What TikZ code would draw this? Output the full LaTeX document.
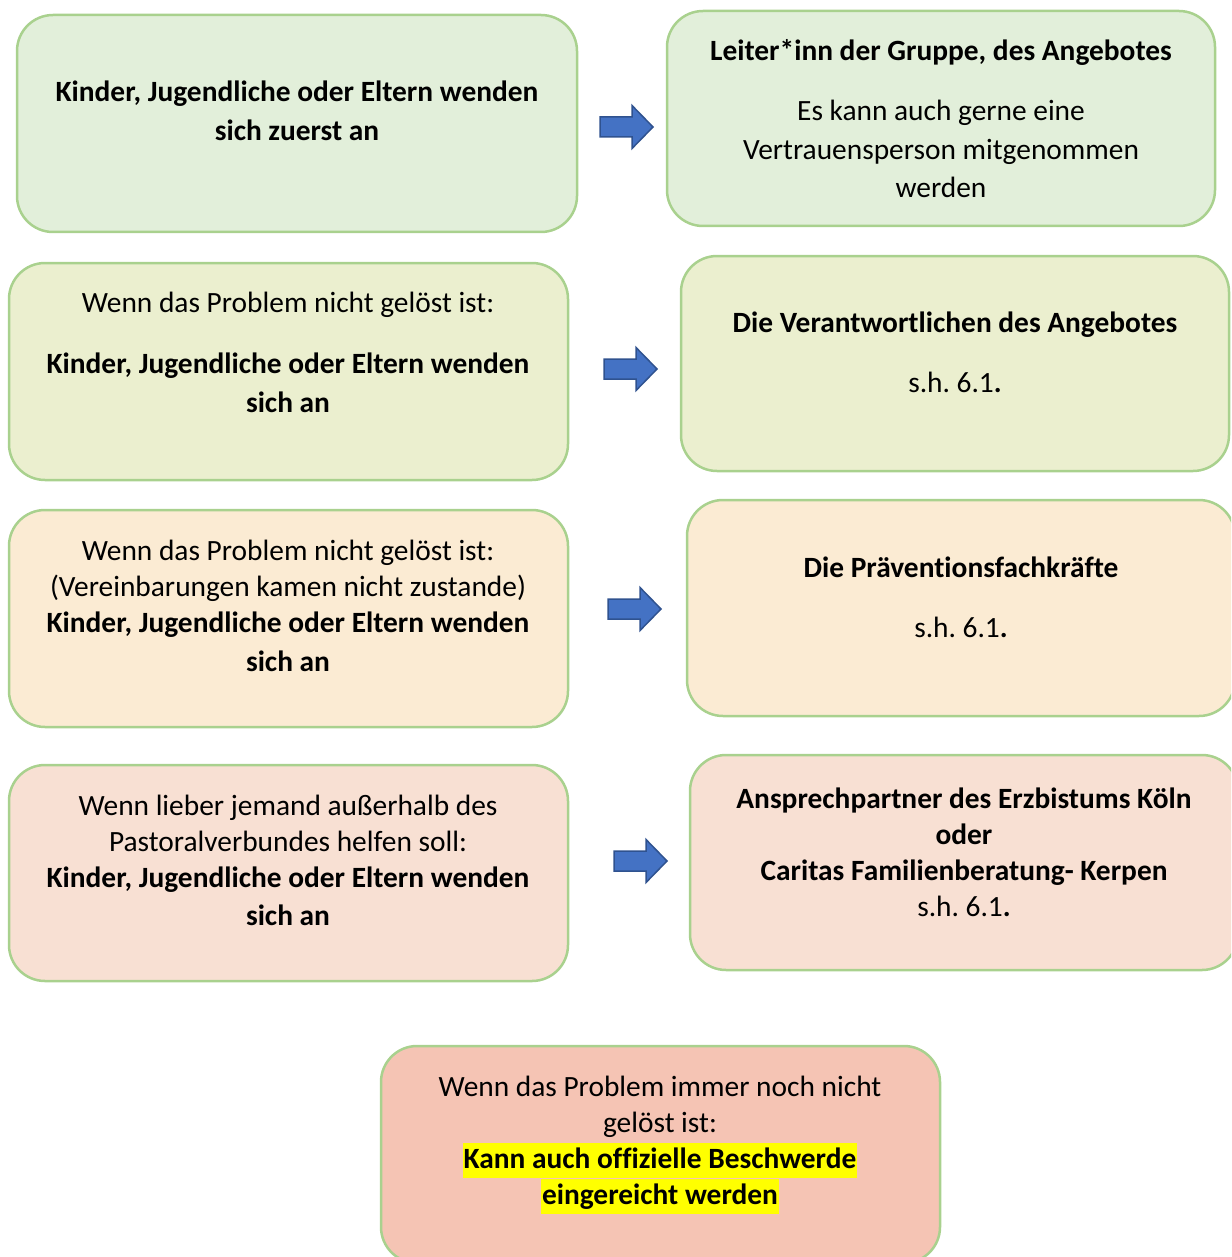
\documentclass[tikz,border=0pt]{standalone}
\usepackage{fontspec}
\setmainfont[Ligatures=NoCommon]{Carlito}
\frenchspacing
\definecolor{bordergreen}{HTML}{A9D18E}
\definecolor{fillA}{HTML}{E2EFDA}
\definecolor{fillB}{HTML}{EBEFCF}
\definecolor{fillC}{HTML}{FBEBD3}
\definecolor{fillD}{HTML}{F8E0D3}
\definecolor{fillE}{HTML}{F5C4B4}
\definecolor{arrowblue}{HTML}{4472C4}
\definecolor{arrowedge}{HTML}{2F528F}
\definecolor{hl}{HTML}{FFFF00}
\tikzset{
  box/.style={draw=bordergreen, line width=2.5pt, rounded corners=36pt, inner sep=0pt},
  txt/.style={anchor=base, inner sep=0pt, yshift=-2pt, font=\fontsize{29.4}{35}\selectfont},
  btxt/.style={anchor=base, inner sep=0pt, yshift=-2pt, font=\fontsize{29.4}{35}\selectfont\bfseries},
  hltxt/.style={btxt, fill=hl, inner xsep=1pt, inner ysep=0pt, text height=25pt, text depth=10pt},
  blockarrow/.style={fill=arrowblue, draw=arrowedge, line width=1.5pt, line join=miter}
}
\newcommand{\blockarr}[2]{%
  \draw[blockarrow] (#1,#2) ++(0,10) -- ++(32,0) -- ++(0,11.5) -- ++(21,-21.5) -- ++(-21,-21.5) -- ++(0,11.5) -- ++(-32,0) -- cycle;}
\begin{document}
\begin{tikzpicture}[x=1pt,y=1pt]
\useasboundingbox (0,0) rectangle (1231,-1257);
\clip (0,0) rectangle (1231,-1257);
% boxes
\node[box, fill=fillA, minimum width=560pt, minimum height=217pt] (b1l) at (297,-123.5) {};
\node[box, fill=fillA, minimum width=548pt, minimum height=215pt] (b1r) at (941,-118.5) {};
\node[box, fill=fillB, minimum width=559pt, minimum height=217pt] (b2l) at (288.5,-371.5) {};
\node[box, fill=fillB, minimum width=548pt, minimum height=215pt] (b2r) at (955,-363.5) {};
\node[box, fill=fillC, minimum width=559pt, minimum height=217pt] (b3l) at (288.5,-618.5) {};
\node[box, fill=fillC, minimum width=548pt, minimum height=216pt] (b3r) at (961,-608) {};
\node[box, fill=fillD, minimum width=559pt, minimum height=216pt] (b4l) at (288.5,-873) {};
\node[box, fill=fillD, minimum width=548pt, minimum height=215pt] (b4r) at (964,-862.5) {};
\node[box, fill=fillE, minimum width=559pt, minimum height=217pt] (b5) at (660.5,-1154.5) {};
% arrows
\blockarr{600}{-127}
\blockarr{604}{-369}
\blockarr{608}{-609}
\blockarr{614}{-861}
% row 1
\node[btxt] (t1a) at (297,-100) {Kinder, Jugendliche oder Eltern wenden};
\node[btxt] (t1b) at (297,-139) {sich zuerst an};
\node[btxt] (t1c) at (941,-59) {Leiter*inn der Gruppe, des Angebotes};
\node[txt] (t1d) at (941,-119) {Es kann auch gerne eine};
\node[txt] (t1e) at (941,-158) {Vertrauensperson mitgenommen};
\node[txt] (t1f) at (941,-196) {werden};
% row 2
\node[txt] (t2a) at (288,-310) {Wenn das Problem nicht gelöst ist:};
\node[btxt] (t2b) at (288,-371) {Kinder, Jugendliche oder Eltern wenden};
\node[btxt] (t2c) at (288,-410) {sich an};
\node[btxt] (t2d) at (955,-330) {Die Verantwortlichen des Angebotes};
\node[txt] (t2e) at (955,-390) {s.h. 6.1\textbf{.}};
% row 3
\node[txt] (t3a) at (288,-558) {Wenn das Problem nicht gelöst ist:};
\node[txt] (t3b) at (288,-594) {(Vereinbarungen kamen nicht zustande)};
\node[btxt] (t3c) at (288,-630) {Kinder, Jugendliche oder Eltern wenden};
\node[btxt] (t3d) at (288,-669) {sich an};
\node[btxt] (t3e) at (961,-575) {Die Präventionsfachkräfte};
\node[txt] (t3f) at (961,-635) {s.h. 6.1\textbf{.}};
% row 4
\node[txt] (t4a) at (288,-813) {Wenn lieber jemand außerhalb des};
\node[txt] (t4b) at (288,-849) {Pastoralverbundes helfen soll:};
\node[btxt] (t4c) at (288,-885) {Kinder, Jugendliche oder Eltern wenden};
\node[btxt] (t4d) at (288,-923) {sich an};
\node[btxt] (t4e) at (964,-806) {Ansprechpartner des Erzbistums Köln};
\node[btxt] (t4f) at (964,-842) {oder};
\node[btxt] (t4g) at (964,-878) {Caritas Familienberatung- Kerpen};
\node[txt] (t4h) at (964,-914) {s.h. 6.1\textbf{.}};
% bottom
\node[txt] (t5a) at (660,-1094) {Wenn das Problem immer noch nicht};
\node[txt] (t5b) at (660,-1130) {gelöst ist:};
\node[hltxt] (t5c) at (660,-1166) {Kann auch offizielle Beschwerde};
\node[hltxt] (t5d) at (660,-1202) {eingereicht werden};
\end{tikzpicture}
\end{document}
